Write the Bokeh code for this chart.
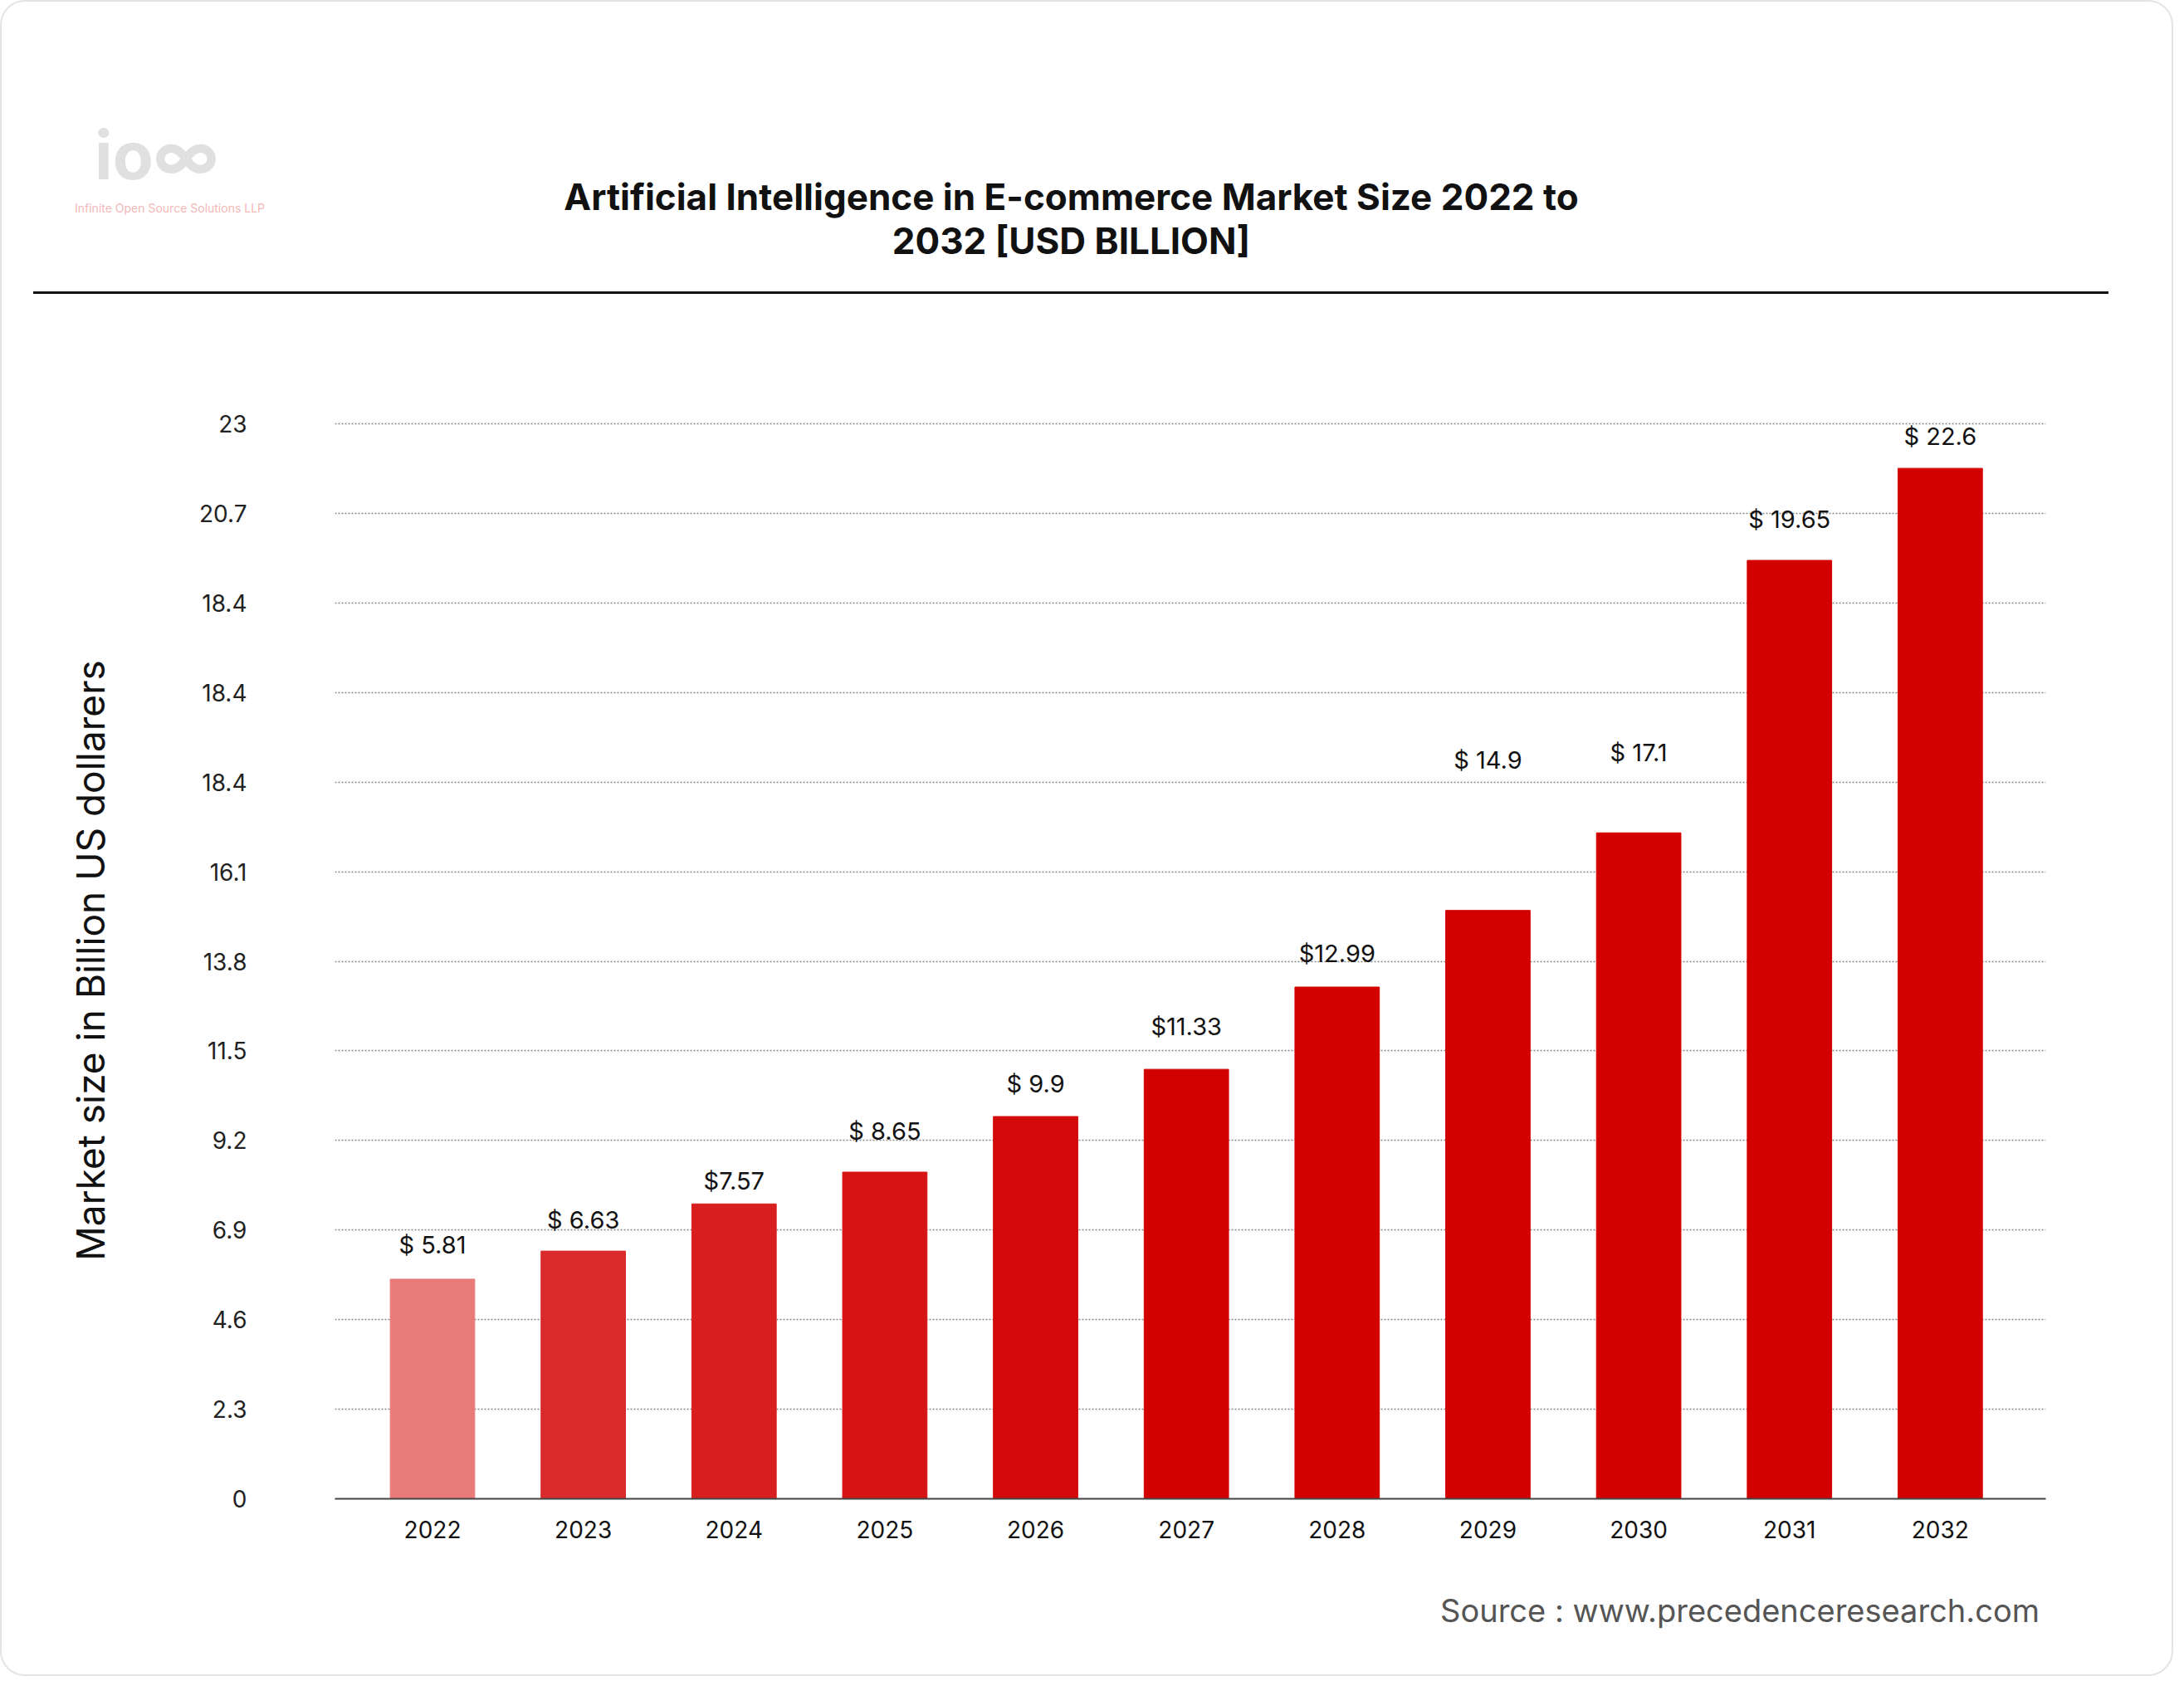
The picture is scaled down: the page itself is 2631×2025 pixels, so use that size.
from bokeh.plotting import figure
from bokeh.models import Range1d, FixedTicker, Div
from bokeh.layouts import column
from bokeh.core.properties import value
from bokeh.embed import file_html
from bokeh.resources import INLINE

S = 1.678
years = [2022, 2023, 2024, 2025, 2026, 2027, 2028, 2029, 2030, 2031, 2032]
labels = ["$ 5.81", "$ 6.63", "$7.57", "$ 8.65", "$ 9.9", "$11.33", "$12.99", "$ 14.9", "$ 17.1", "$ 19.65", "$ 22.6"]
# bar heights as drawn in the picture (axis units)
bar_heights = [4.70, 5.30, 6.31, 6.99, 8.18, 9.19, 10.95, 12.59, 14.25, 20.08, 22.05]
label_pos = [5.12, 5.65, 6.49, 7.56, 8.57, 9.79, 11.36, 15.50, 15.65, 20.65, 22.43]
colors = ["#E97A7A", "#D92B2B", "#D81E1E", "#D71414", "#D40A0A", "#D30000", "#D30000",
          "#D30000", "#D30000", "#D30000", "#D30000"]
tick_pos = [0, 1, 2, 3, 4, 5, 6, 7, 8, 9, 10, 11, 12]
tick_text = ["0", "2.3", "4.6", "6.9", "9.2", "11.5", "13.8", "16.1", "18.4", "18.4", "18.4", "20.7", "23"]
title_lines = ["Artificial Intelligence in E-commerce Market Size 2022 to", "2032 [USD BILLION]"]
source = "Source : www.precedenceresearch.com"

W = int(1552 * S)
HH = int(207 * S)
MH = int(902 * S)
FH = int(81 * S)
FONT = value("Inter")

header_html = f"""
<div style="position:relative;width:{W}px;height:{HH}px;font-family:Inter;">
  <div style="position:absolute;left:{int(64*S)}px;top:{int(84*S)}px;font-size:80px;font-weight:bold;color:#E0E0E0;line-height:1;">io∞</div>
  <div style="position:absolute;left:{int(50*S)}px;top:{int(140*S)}px;font-size:14px;color:#F2B8B8;">Infinite Open Source Solutions LLP</div>
  <div style="position:absolute;left:0;width:{int(1530*S)}px;top:{int(122*S)}px;text-align:center;font-size:44px;font-weight:bold;color:#111;line-height:{int(32*S)}px;">{title_lines[0]}<br>{title_lines[1]}</div>
  <div style="position:absolute;left:{int(20*S)}px;width:{int(1490*S)}px;top:{HH-3}px;height:3px;background:#111;"></div>
</div>"""
h = Div(text=header_html, width=W, height=HH)

# Main chart
p = figure(width=W, height=MH, output_backend="svg", toolbar_location=None,
           x_range=Range1d(2022 - 0.647, 2032 + 0.70), y_range=Range1d(0, 12.02),
           min_border_top=int(89 * S), min_border_bottom=int(40 * S),
           min_border_left=int(239 * S), min_border_right=int(85 * S))
p.outline_line_color = None
unit = 23 / 12.0
p.vbar(x=years, top=[b / unit for b in bar_heights], width=0.56, color=colors)
p.text(x=years, y=[l / unit for l in label_pos], text=labels, text_font=FONT, text_font_size="29px",
       text_align="center", text_baseline="bottom", text_color="#111111")

p.yaxis.ticker = FixedTicker(ticks=tick_pos)
p.yaxis.major_label_overrides = {i: t for i, t in zip(tick_pos, tick_text)}
p.yaxis.axis_line_color = None
p.yaxis.major_tick_line_color = None
p.yaxis.minor_tick_line_color = None
p.yaxis.major_label_standoff = int(60 * S)
p.yaxis.major_label_text_font_size = "28px"
p.yaxis.major_label_text_font = "Inter"
p.yaxis.major_label_text_color = "#222222"
p.yaxis.axis_label = "Market size in Billion US dollarers"
p.yaxis.axis_label_text_font = "Inter"
p.yaxis.axis_label_text_font_style = "normal"
p.yaxis.axis_label_text_font_size = "46px"
p.yaxis.axis_label_text_color = "#111111"
p.yaxis.axis_label_standoff = 100

p.xaxis.ticker = FixedTicker(ticks=years)
p.xaxis.axis_line_color = "#444444"
p.xaxis.axis_line_width = 2
p.xaxis.major_tick_line_color = None
p.xaxis.minor_tick_line_color = None
p.xaxis.major_label_standoff = 20
p.xaxis.major_label_text_font_size = "28px"
p.xaxis.major_label_text_font = "Inter"
p.xaxis.major_label_text_color = "#111111"

p.xgrid.visible = False
p.ygrid.ticker = FixedTicker(ticks=tick_pos[1:])
p.ygrid.grid_line_color = "#888888"
p.ygrid.grid_line_dash = "2 2"
p.ygrid.grid_line_width = 1.5

footer_html = f"""
<div style="position:relative;width:{W}px;height:{FH}px;font-family:Inter;">
  <div style="position:absolute;right:{int(92*S)}px;top:{int(22*S)}px;font-size:38px;color:#555;">{source}</div>
</div>"""
f = Div(text=footer_html, width=W, height=FH)

layout = column(h, p, f, spacing=0, styles={"border": "2px solid #E4E4E4", "border-radius": "30px"})
open("out.html", "w").write(file_html(layout, INLINE))
